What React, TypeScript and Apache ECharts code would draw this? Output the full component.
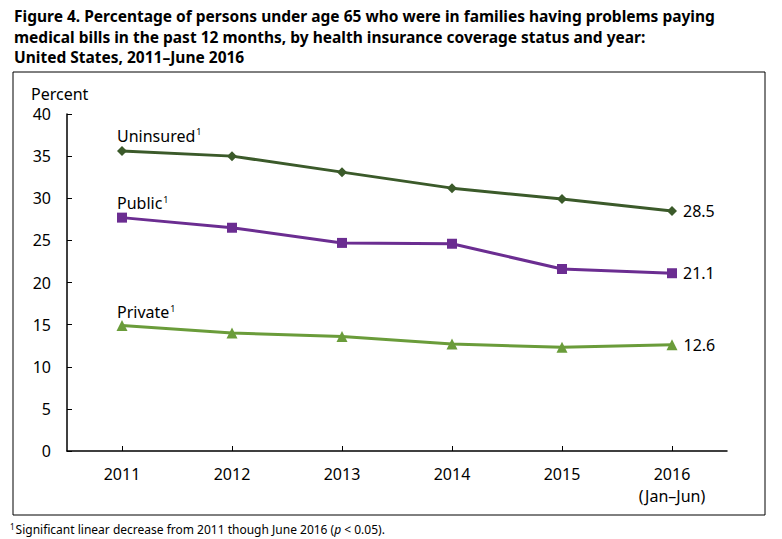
import React, { useEffect, useRef } from "react";
import * as echarts from "echarts";

const years = ["2011", "2012", "2013", "2014", "2015", "2016"];
const yearLabels = ["2011", "2012", "2013", "2014", "2015", "2016\n(Jan–Jun)"];
const uninsured = [35.6, 35.0, 33.1, 31.2, 29.9, 28.5];
const publicCov = [27.7, 26.5, 24.7, 24.6, 21.6, 21.1];
const privateCov = [14.9, 14.0, 13.6, 12.7, 12.3, 12.6];
const seriesNames = ["Uninsured", "Public", "Private"];
const titleLines = [
  "Figure 4. Percentage of persons under age 65 who were in families having problems paying",
  "medical bills in the past 12 months, by health insurance coverage status and year:",
  "United States, 2011–June 2016",
];
const footnote = "Significant linear decrease from 2011 though June 2016 (";

const FONT = "'Noto Sans', 'Open Sans', sans-serif";

export default function App() {
  const ref = useRef<HTMLDivElement>(null);
  useEffect(() => {
    if (!ref.current) return;
    const chart = echarts.init(ref.current, null, { renderer: "svg" });
    const mk = (name: string, data: number[], color: string, symbol: string, size: number, dy: number) => ({
      type: "line",
      name,
      data: data.map((v, i) => ({
        value: v,
        label:
          i === 0
            ? {
                show: true,
                position: "top",
                align: "left",
                offset: [-5, dy],
                formatter: () => `${name}{sup|1}`,
                fontSize: 16,
                color: "#000",
                fontFamily: FONT,
                rich: { sup: { fontSize: 9, verticalAlign: "top", padding: [0, 0, 8, 1], color: "#000", fontFamily: FONT } },
              }
            : i === data.length - 1
            ? {
                show: true,
                position: "right",
                distance: 6,
                formatter: () => v.toFixed(1),
                fontSize: 16,
                color: "#000",
                fontFamily: FONT,
              }
            : { show: false },
      })),
      symbol,
      symbolSize: size,
      lineStyle: { color, width: 3 },
      itemStyle: { color },
      z: 3,
    });
    chart.setOption({
      animation: false,
      textStyle: { fontFamily: FONT },
      title: titleLines.map((t, i) => ({
        text: t,
        left: 9,
        top: 3 + i * 20.5,
        textStyle: { fontSize: 15.5, fontWeight: "bold", color: "#000", fontFamily: FONT },
      })),
      grid: { left: 67, right: 55, top: 114, bottom: 88, containLabel: false },
      xAxis: {
        type: "category",
        data: years,
        boundaryGap: true,
        axisLine: { lineStyle: { color: "#000", width: 1.5 } },
        axisTick: { show: true, inside: true, alignWithLabel: true, length: 5, lineStyle: { color: "#000" } },
        axisLabel: {
          color: "#000",
          fontSize: 16,
          margin: 12,
          lineHeight: 22,
          fontFamily: FONT,
          formatter: (_v: string, i: number) => yearLabels[i],
        },
      },
      yAxis: {
        type: "value",
        min: 0,
        max: 40,
        interval: 5,
        name: "Percent",
        nameLocation: "end",
        nameGap: 12,
        nameTextStyle: { color: "#000", fontSize: 16, align: "left", padding: [0, 0, 0, -36], fontFamily: FONT },
        splitLine: { show: false },
        axisLine: { show: true, lineStyle: { color: "#000", width: 1.5 } },
        axisTick: { show: true, inside: true, length: 5, lineStyle: { color: "#000" } },
        axisLabel: { color: "#000", fontSize: 16, margin: 16, fontFamily: FONT },
      },
      graphic: [
        {
          type: "rect",
          shape: { x: 13, y: 72, width: 752, height: 443 },
          style: { fill: "none", stroke: "#000", lineWidth: 1 },
          silent: true,
        },
        {
          type: "text",
          left: 10,
          top: 522,
          style: {
            text: `{sup|1}${footnote}{it|p} < 0.05).`,
            fontSize: 12,
            fill: "#000",
            fontFamily: FONT,
            rich: {
              sup: { fontSize: 8, verticalAlign: "top", padding: [0, 1, 6, 0], fontFamily: FONT },
              it: { fontStyle: "italic", fontSize: 12, fontFamily: FONT },
            },
          },
        },
      ],
      series: [
        mk(seriesNames[0], uninsured, "#3b5a2a", "diamond", 10, 3),
        mk(seriesNames[1], publicCov, "#6b2d91", "rect", 10, 4),
        mk(seriesNames[2], privateCov, "#6a9c3a", "triangle", 11, 6),
      ],
    });
    return () => chart.dispose();
  }, []);
  return (
    <div
      ref={ref}
      style={{ position: "fixed", left: 0, top: 0, width: 782, height: 539, background: "#fff" }}
    />
  );
}
